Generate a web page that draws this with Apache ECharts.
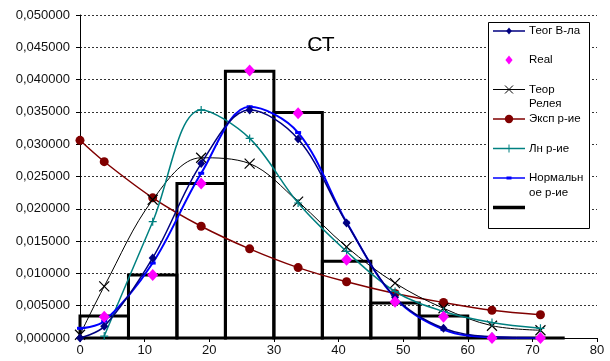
<!DOCTYPE html>
<html>
<head>
<meta charset="utf-8">
<script src="https://cdn.jsdelivr.net/npm/echarts@6/dist/echarts.min.js"></script>
<style>
html,body{margin:0;padding:0;background:#fff;}
#chart{width:610px;height:361px;}
</style>
</head>
<body>
<div id="chart"></div>
<script>
// ---- data ----
const xs = [0, 3.75, 11.25, 18.75, 26.25, 33.75, 41.25, 48.75, 56.25, 63.75, 71.25];
const teorVla   = [0, 0.0018, 0.0124, 0.0270, 0.0353, 0.0308, 0.0178, 0.0063, 0.0015, 0.0002, 0.0000];
const realVals  = [null, 0.0033, 0.00975, 0.0239, 0.0414, 0.0348, 0.0121, 0.0056, 0.0033, 0.0000, 0.0000];
const rayleigh  = [0.0005, 0.0080, 0.0214, 0.0279, 0.0270, 0.0211, 0.0141, 0.0085, 0.0046, 0.0019, 0.0012];
const expVals   = [0.0306, 0.0273, 0.0217, 0.0173, 0.0138, 0.0109, 0.0087, 0.0069, 0.0055, 0.0043, 0.0036];
const lnVals    = [null, 0.0003, 0.0180, 0.0353, 0.0309, 0.0209, 0.0134, 0.0072, 0.0041, 0.0024, 0.0015];
const normVals  = [0.0015, 0.0026, 0.0116, 0.0255, 0.0358, 0.0318, 0.0179, 0.0062, 0.0013, 0.0001, 0.0000];
const binEdges  = [0, 7.5, 15, 22.5, 30, 37.5, 45, 52.5, 60, 67.5, 75];
const histVals  = [0.0034, 0.00975, 0.0239, 0.0413, 0.0349, 0.0119, 0.0054, 0.0034, 0, 0];
const seriesNames = ['Теог В-ла', 'Real', 'Теор\nРелея', 'Эксп р-ие', 'Лн р-ие', 'Нормальн\nое р-ие', ''];
const titleText = 'СТ';

const FONT = '"Liberation Sans", Arial, sans-serif';
const pairs = arr => xs.map((x, i) => [x, arr[i]]).filter(p => p[1] !== null);
const histData = histVals.map((h, i) => [binEdges[i], binEdges[i + 1], h]);

const chart = echarts.init(document.getElementById('chart'), null, {renderer: 'canvas'});

// legend drawn with graphic elements
const LX0 = 493, LX1 = 525, LXC = 509, TX = 529;
const legendRows = [31, 60, 89.5, 119, 148.5, 178, 207.5];
const g = [];
g.push({type: 'rect', shape: {x: 488.5, y: 22.5, width: 101, height: 206}, style: {fill: '#fff', stroke: '#000', lineWidth: 1}, z: 100});
function lline(y, color, w) { g.push({type: 'line', shape: {x1: LX0, y1: y, x2: LX1, y2: y}, style: {stroke: color, lineWidth: w}, z: 101}); }
function ltext(y, t) { g.push({type: 'text', style: {text: t, x: TX, y: y - 7, font: '11.5px ' + FONT, fill: '#000', lineHeight: 14.5, textVerticalAlign: 'top'}, z: 101}); }
function diamond(y, s, color) { g.push({type: 'polygon', shape: {points: [[LXC, y - s], [LXC + s * 0.8, y], [LXC, y + s], [LXC - s * 0.8, y]]}, style: {fill: color}, z: 102}); }
// row 0
lline(legendRows[0], '#000080', 1.5); diamond(legendRows[0], 3.5, '#000080'); ltext(legendRows[0], seriesNames[0]);
// row 1
diamond(legendRows[1], 4.5, '#FF00FF'); ltext(legendRows[1], seriesNames[1]);
// row 2
lline(legendRows[2], '#000', 1);
g.push({type: 'line', shape: {x1: LXC - 4, y1: legendRows[2] - 4, x2: LXC + 4, y2: legendRows[2] + 4}, style: {stroke: '#000', lineWidth: 1}, z: 102});
g.push({type: 'line', shape: {x1: LXC - 4, y1: legendRows[2] + 4, x2: LXC + 4, y2: legendRows[2] - 4}, style: {stroke: '#000', lineWidth: 1}, z: 102});
ltext(legendRows[2], seriesNames[2]);
// row 3
lline(legendRows[3], '#800000', 1.5);
g.push({type: 'circle', shape: {cx: LXC, cy: legendRows[3], r: 4.2}, style: {fill: '#800000'}, z: 102});
ltext(legendRows[3], seriesNames[3]);
// row 4
lline(legendRows[4], '#008080', 1.5);
g.push({type: 'line', shape: {x1: LXC, y1: legendRows[4] - 4, x2: LXC, y2: legendRows[4] + 4}, style: {stroke: '#008080', lineWidth: 1}, z: 102});
ltext(legendRows[4], seriesNames[4]);
// row 5
lline(legendRows[5], '#0000FF', 1.5);
g.push({type: 'rect', shape: {x: LXC - 2.5, y: legendRows[5] - 1.5, width: 5, height: 3}, style: {fill: '#0000FF'}, z: 102});
ltext(legendRows[5], seriesNames[5]);
// row 6
lline(legendRows[6], '#000', 3.5);

const option = {
  animation: false,
  backgroundColor: '#fff',
  title: {
    text: titleText, left: 316, top: 30, textAlign: 'center',
    textStyle: {fontFamily: FONT, fontSize: 21, fontWeight: 'normal', color: '#000'}
  },
  grid: {left: 80, right: 13, top: 15, bottom: 23, containLabel: false},
  xAxis: {
    type: 'value', min: 0, max: 80, interval: 10,
    axisLine: {lineStyle: {color: '#000', width: 1}},
    axisTick: {show: true, length: 4, lineStyle: {color: '#000'}},
    axisLabel: {fontFamily: FONT, fontSize: 13, color: '#111', margin: 6},
    splitLine: {show: false}
  },
  yAxis: {
    type: 'value', min: 0, max: 0.05, interval: 0.005,
    axisLine: {show: true, lineStyle: {color: '#000', width: 1}},
    axisTick: {show: true, length: 4, lineStyle: {color: '#000'}},
    axisLabel: {fontFamily: FONT, fontSize: 13, color: '#111', margin: 10,
      formatter: v => v.toFixed(6).replace('.', ',')},
    splitLine: {show: true, lineStyle: {color: '#333', width: 1, type: [2, 2]}}
  },
  graphic: g,
  series: [
    {
      name: 'hist', type: 'custom', z: 2,
      data: histData,
      encode: {x: [0, 1], y: 2},
      renderItem: function (params, api) {
        const p0 = api.coord([api.value(0), 0]);
        const p1 = api.coord([api.value(1), api.value(2)]);
        return {type: 'rect', shape: {x: p0[0], y: p1[1], width: p1[0] - p0[0], height: p0[1] - p1[1]},
          style: {fill: 'none', stroke: '#000', lineWidth: 3}};
      }
    },
    {
      name: seriesNames[3], type: 'line', smooth: 0.35, z: 3,
      data: pairs(expVals),
      lineStyle: {color: '#800000', width: 1.5},
      symbol: 'circle', symbolSize: 9, showAllSymbol: true,
      itemStyle: {color: '#800000', borderWidth: 0}
    },
    {
      name: seriesNames[2], type: 'line', smooth: 0.35, z: 4,
      data: pairs(rayleigh),
      lineStyle: {color: '#000', width: 1},
      symbol: 'path://M0,0L10,10M10,0L0,10', symbolSize: 10, showAllSymbol: true,
      itemStyle: {color: 'none', borderColor: '#000', borderWidth: 1.2}
    },
    {
      name: seriesNames[4], type: 'line', smooth: 0.35, z: 5,
      data: pairs(lnVals),
      lineStyle: {color: '#008080', width: 1.5},
      symbol: 'path://M5,0L5,10M0,5L10,5', symbolSize: 8, showAllSymbol: true,
      itemStyle: {color: 'none', borderColor: '#008080', borderWidth: 1.2}
    },
    {
      name: seriesNames[5], type: 'line', smooth: 0.35, z: 6,
      data: pairs(normVals),
      lineStyle: {color: '#0000FF', width: 2},
      symbol: 'rect', symbolSize: [6, 3], showAllSymbol: true,
      itemStyle: {color: '#0000FF', borderWidth: 0}
    },
    {
      name: seriesNames[0], type: 'line', smooth: 0.35, z: 7,
      data: pairs(teorVla),
      lineStyle: {color: '#000080', width: 1.5},
      symbol: 'diamond', symbolSize: [8, 9], showAllSymbol: true,
      itemStyle: {color: '#000080', borderWidth: 0}
    },
    {
      name: seriesNames[1], type: 'line', z: 8,
      data: pairs(realVals),
      lineStyle: {width: 0, opacity: 0},
      symbol: 'diamond', symbolSize: [11, 12], showAllSymbol: true,
      itemStyle: {color: '#FF00FF', borderWidth: 0}
    }
  ]
};
chart.setOption(option);
</script>
</body>
</html>
